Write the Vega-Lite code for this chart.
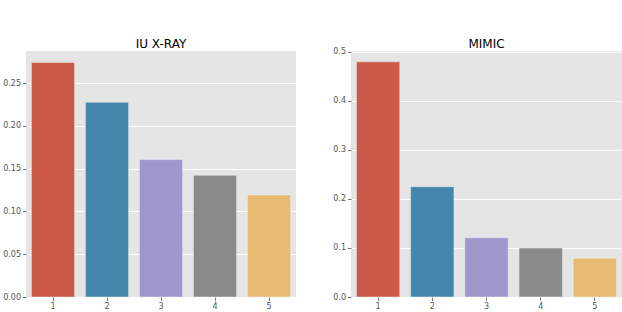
{
  "$schema": "https://vega.github.io/schema/vega-lite/v6.json",
  "padding": {"left": 0, "top": 37, "right": 0, "bottom": 0},
  "spacing": 35,
  "background": "white",
  "datasets": {
    "iu": [
      {"rank": "1", "value": 0.274},
      {"rank": "2", "value": 0.2275},
      {"rank": "3", "value": 0.1605},
      {"rank": "4", "value": 0.1422},
      {"rank": "5", "value": 0.1192}
    ],
    "mimic": [
      {"rank": "1", "value": 0.48},
      {"rank": "2", "value": 0.225},
      {"rank": "3", "value": 0.1207},
      {"rank": "4", "value": 0.0998},
      {"rank": "5", "value": 0.079}
    ]
  },
  "config": {
    "view": {"fill": "#E5E5E5", "stroke": null},
    "font": "DejaVu Sans",
    "title": {"fontSize": 12, "fontWeight": "normal", "color": "#000000", "font": "DejaVu Sans", "offset": 1},
    "axis": {
      "domain": false,
      "tickColor": "#555555",
      "tickSize": 3.5,
      "tickWidth": 0.8,
      "labelColor": "#555555",
      "labelFontSize": 8,
      "labelFont": "DejaVu Sans",
      "labelPadding": 2,
      "gridColor": "#FFFFFF",
      "gridWidth": 1,
      "gridOpacity": 1,
      "title": null
    },
    "axisX": {"grid": false, "labelAngle": 0},
    "scale": {"bandPaddingInner": 0.2, "bandPaddingOuter": 0.1}
  },
  "hconcat": [
    {
      "title": {"text": "IU X-RAY", "offset": 0},
      "width": 270,
      "height": 246,
      "data": {"name": "iu"},
      "mark": {"type": "bar", "stroke": "#EEEEEE", "strokeWidth": 0.5},
      "encoding": {
        "x": {"field": "rank", "type": "nominal", "axis": {}},
        "y": {
          "field": "value", "type": "quantitative",
          "scale": {"domain": [0, 0.2874], "nice": false},
          "axis": {"values": [0, 0.05, 0.1, 0.15, 0.2, 0.25], "format": ".2f", "minExtent": 26, "maxExtent": 26}
        },
        "color": {
          "field": "rank", "type": "nominal", "legend": null,
          "scale": {"domain": ["1", "2", "3", "4", "5"], "range": ["#CC5A49", "#4586AC", "#9E97CC", "#8A8A8A", "#E7BC72"]}
        }
      }
    },
    {
      "title": {"text": "MIMIC", "offset": -3},
      "width": 271,
      "height": 246,
      "data": {"name": "mimic"},
      "mark": {"type": "bar", "stroke": "#EEEEEE", "strokeWidth": 0.5},
      "encoding": {
        "x": {"field": "rank", "type": "nominal", "axis": {}},
        "y": {
          "field": "value", "type": "quantitative",
          "scale": {"domain": [0, 0.502], "nice": false},
          "axis": {"values": [0, 0.1, 0.2, 0.3, 0.4, 0.5], "format": ".1f", "minExtent": 20, "maxExtent": 20}
        },
        "color": {
          "field": "rank", "type": "nominal", "legend": null,
          "scale": {"domain": ["1", "2", "3", "4", "5"], "range": ["#CC5A49", "#4586AC", "#9E97CC", "#8A8A8A", "#E7BC72"]}
        }
      }
    }
  ]
}
